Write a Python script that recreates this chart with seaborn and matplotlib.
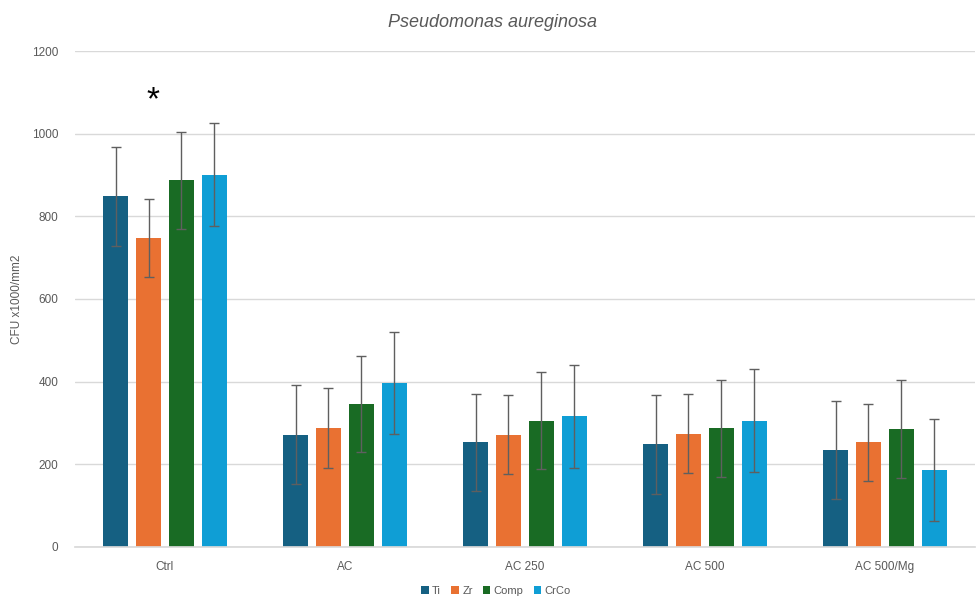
import matplotlib
matplotlib.use("Agg")
import matplotlib.pyplot as plt
import seaborn as sns
import pandas as pd
import numpy as np

categories = ["Ctrl", "AC", "AC 250", "AC 500", "AC 500/Mg"]
materials = ["Ti", "Zr", "Comp", "CrCo"]

ti_mean = [848, 272, 253, 248, 235]
zr_mean = [748, 288, 272, 274, 253]
comp_mean = [887, 346, 306, 287, 285]
crco_mean = [901, 397, 316, 306, 187]

ti_err = [119, 120, 118, 120, 119]
zr_err = [95, 96, 96, 96, 94]
comp_err = [117, 117, 117, 117, 118]
crco_err = [124, 124, 124, 124, 123]

colors = ["#156082", "#E97132", "#196B24", "#0F9ED5"]

means = {"Ti": ti_mean, "Zr": zr_mean, "Comp": comp_mean, "CrCo": crco_mean}
errs = {"Ti": ti_err, "Zr": zr_err, "Comp": comp_err, "CrCo": crco_err}

rows = []
for m in materials:
    for c, v, e in zip(categories, means[m], errs[m]):
        rows.append({"Group": c, "Material": m, "CFU": v, "err": e})
df = pd.DataFrame(rows)

sns.set_theme(style="white")
plt.rcParams["font.family"] = ["Liberation Sans", "DejaVu Sans"]

fig = plt.figure(figsize=(9.76, 5.98), dpi=100)
ax = fig.add_axes([0.0768, 0.0853, 0.922, 0.8294])

sns.barplot(data=df, x="Group", y="CFU", hue="Material", order=categories,
            hue_order=materials, palette=colors, width=0.73, gap=0.24,
            errorbar=None, ax=ax, legend=True, saturation=1,
            edgecolor="none")

# error bars aligned to bars
for cont, m in zip(ax.containers, materials):
    xs = [p.get_x() + p.get_width() / 2 for p in cont.patches]
    hs = [p.get_height() for p in cont.patches]
    ax.errorbar(xs, hs, yerr=errs[m], fmt="none", ecolor="#5f5f5f",
                elinewidth=1.0, capsize=3.5, capthick=1.0, zorder=5)

# significance asterisk above Ctrl / Zr
zr_bar = ax.containers[1].patches[0]
ax.text(zr_bar.get_x() + zr_bar.get_width() / 2 + 0.025, 1080, "*",
        ha="center", va="center", fontsize=24, color="black")

ax.set_ylim(0, 1200)
ax.set_xlim(-0.5, 4.5)
ax.set_yticks(np.arange(0, 1201, 200))
ax.yaxis.grid(True, color="#d9d9d9", linewidth=1)
ax.set_axisbelow(True)
for s in ["top", "right", "left"]:
    ax.spines[s].set_visible(False)
ax.spines["bottom"].set_color("#d9d9d9")
ax.tick_params(axis="both", length=0, labelsize=8.5, colors="#595959")
ax.tick_params(axis="y", pad=12)
ax.tick_params(axis="x", pad=10)
ax.set_xlabel("")
ax.set_ylabel("CFU x1000/mm2", fontsize=8.5, color="#595959", labelpad=14)
ax.yaxis.set_label_coords(-0.058, 0.5)
fig.text(0.505, 0.963, "Pseudomonas aureginosa", fontsize=13, style="italic",
         color="#595959", ha="center", va="center")

leg = ax.legend(loc="center", bbox_to_anchor=(0.468, -0.089), ncol=4,
                frameon=False, fontsize=8, handlelength=0.7, handleheight=0.7,
                handletextpad=0.3, columnspacing=0.9, borderpad=0.1)
for t in leg.get_texts():
    t.set_color("#595959")

fig.savefig("out.png", dpi=100)
